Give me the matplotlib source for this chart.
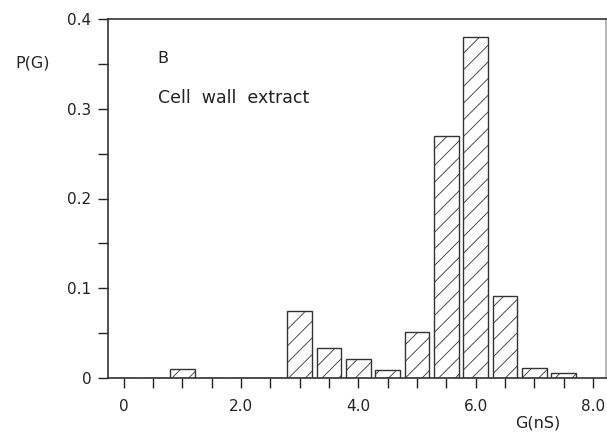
import numpy as np
import matplotlib
matplotlib.use("Agg")
import matplotlib.pyplot as plt
from matplotlib.ticker import MultipleLocator

# conductance bins (nS) and probabilities
g_bins = [0.0, 0.5, 1.0, 1.5, 2.0, 2.5, 3.0, 3.5, 4.0, 4.5, 5.0, 5.5, 6.0, 6.5, 7.0, 7.5]
p_g = [0.0, 0.0, 0.01, 0.0, 0.0, 0.0, 0.075, 0.033, 0.021, 0.009, 0.051, 0.27, 0.38, 0.091, 0.011, 0.006]

x_ticks = [0, 2, 4, 6, 8]
x_labels = ["0", "2.0", "4.0", "6.0", "8.0"]
y_ticks = [0, 0.1, 0.2, 0.3, 0.4]
y_labels = ["0", "0.1", "0.2", "0.3", "0.4"]

plt.rcParams['font.family'] = ['DejaVu Sans']
plt.rcParams['hatch.color'] = '#777777'
plt.rcParams['hatch.linewidth'] = 0.6

fig = plt.figure(figsize=(6.07, 4.34), dpi=100)
ax = fig.add_axes([108/607, 1 - 378/434, (606 - 108)/607, (378 - 19)/434])

ax.bar(g_bins, p_g, width=0.42, color='white', edgecolor='#333333',
       linewidth=1.0, hatch='//', zorder=2)

ax.set_xlim(-0.27, 8.22)
ax.set_ylim(0, 0.4)

ax.set_xticks(x_ticks)
ax.set_xticklabels(x_labels)
ax.set_yticks(y_ticks)
ax.set_yticklabels(y_labels)
ax.xaxis.set_minor_locator(MultipleLocator(0.5))
ax.yaxis.set_minor_locator(MultipleLocator(0.05))

ax.tick_params(axis='both', which='both', direction='out', length=7, width=1.0,
               labelsize=11, colors='#222222')
ax.tick_params(axis='x', pad=8)
ax.tick_params(axis='y', pad=5)

for side in ['left', 'bottom', 'top', 'right']:
    ax.spines[side].set_linewidth(1.2)
    ax.spines[side].set_color('#333333')
ax.spines['right'].set_color('#aaaaaa')

fig.text(15/607, 1 - 63/434, "P(G)", fontsize=11.5, va='center', ha='left', color='#222222')
fig.text(538/607, 1 - 423/434, "G(nS)", fontsize=11.5, va='center', ha='center', color='#222222')
ax.text(0.1, 0.89, "B", transform=ax.transAxes, fontsize=11.5, va='center', ha='left', color='#222222')
ax.text(0.1, 0.78, "Cell  wall  extract", transform=ax.transAxes, fontsize=12.5,
        va='center', ha='left', color='#222222')

fig.savefig("out.png", dpi=100)
